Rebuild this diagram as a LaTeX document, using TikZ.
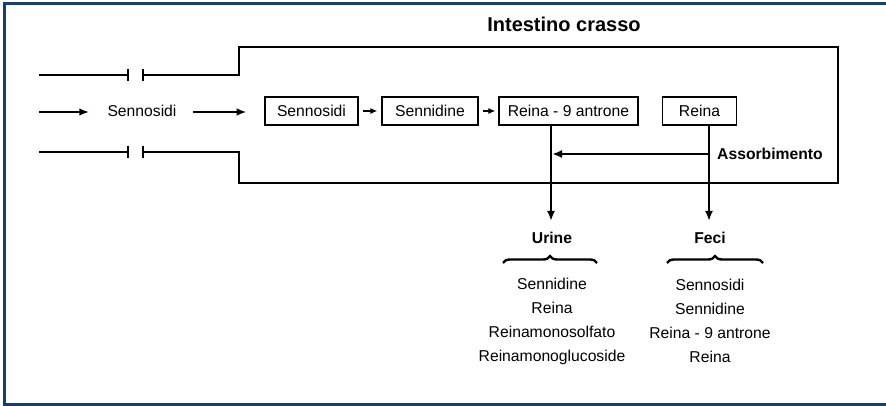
\documentclass[tikz,border=0pt]{standalone}
\usepackage{fontspec}
\setmainfont{Liberation Sans}
\usetikzlibrary{arrows.meta,decorations.pathreplacing,calc}
\definecolor{framebl}{RGB}{24,62,110}
\begin{document}
\begin{tikzpicture}[x=1pt,y=-1pt,
  txt/.style={font=\fontsize{15.7}{18}\selectfont, inner sep=0pt},
  bold/.style={font=\fontsize{15.7}{18}\selectfont\bfseries, inner sep=0pt},
  bx/.style={draw, line width=1.1pt, minimum height=28pt, inner sep=0pt, font=\fontsize{15.7}{18}\selectfont},
  wall/.style={line width=2.8pt},
  bigarr/.style={line width=2.8pt, -{Latex[length=10pt,width=8pt]}},
  midarr/.style={line width=2.2pt, -{Latex[length=10pt,width=7.5pt]}},
  smallarr/.style={line width=1.6pt, -{Latex[length=7pt,width=6pt]}},
  brc/.style={line width=2.4pt, decorate, decoration={brace, amplitude=7pt}},
  lst/.style={align=center, inner sep=0pt, font=\fontsize{15.7}{24}\selectfont}
]
\useasboundingbox (0,0) rectangle (886,406);
% frame
\draw[framebl, line width=3pt] (890,4) -- (4,4) -- (4,404) -- (890,404);

% title
\node[font=\fontsize{20}{24}\selectfont\bfseries, inner sep=0pt] (title) at (564,24) {Intestino crasso};

% intestine wall
\coordinate (tA) at (39,75);
\coordinate (tB) at (128,75);
\coordinate (tC) at (143,75);
\coordinate (bA) at (39,152);
\coordinate (bB) at (128,152);
\coordinate (bC) at (143,152);
\draw[wall] (tA) -- (tB);
\draw[wall] ($(tB)+(0,-6)$) -- ($(tB)+(0,6)$);
\draw[wall] ($(tC)+(0,-6)$) -- ($(tC)+(0,6)$);
\draw[wall] (tC) -- (239,75) -- (239,47) -- (838,47) -- (838,183) -- (239,183) -- (239,152) -- (bC);
\draw[wall] (bA) -- (bB);
\draw[wall] ($(bB)+(0,-6)$) -- ($(bB)+(0,6)$);
\draw[wall] ($(bC)+(0,-6)$) -- ($(bC)+(0,6)$);

% inflow
\coordinate (in0) at (39,112);
\node[txt] (sen0) at (142,111) {Sennosidi};
\draw[midarr] (in0) -- ($(sen0.west)+(-18,1)$);
\draw[midarr] ($(sen0.east)+(16,1)$) -- ($(sen0.east)+(70,1)$);

% boxes
\node[bx, minimum width=93pt] (b1) at (311.5,111) {Sennosidi};
\node[bx, minimum width=96pt] (b2) at (430,111) {Sennidine};
\node[bx, minimum width=139pt] (b3) at (568.5,111) {Reina - 9 antrone};
\node[bx, minimum width=74pt] (b4) at (699.5,111) {Reina};
\draw[smallarr] ($(b1.east)+(4,0)$) -- ($(b2.west)+(-4,0)$);
\draw[smallarr] ($(b2.east)+(4,0)$) -- ($(b3.west)+(-3,0)$);

% outflows
\coordinate (utip) at (551,221);
\coordinate (ftip) at (709,221);
\draw[bigarr] (b3.south -| utip) -- (utip);
\draw[bigarr] (b4.south -| ftip) -- (ftip);
\node[bold, anchor=west] (ass) at (717,154) {Assorbimento};
\draw[bigarr] (ass.west -| ftip) -- ($(ass.west -| utip)+(1,0)$);

\node[bold] (urine) at (552,238) {Urine};
\node[bold] (feci) at (710,238) {Feci};
\coordinate (ubL) at (503,263);
\coordinate (ubR) at (597,263);
\coordinate (fbL) at (667,263);
\coordinate (fbR) at (763,263);
\draw[brc] (ubL) -- (ubR);
\draw[brc] (fbL) -- (fbR);

\node[lst] (ulist) at (552,321) {Sennidine\\Reina\\Reinamonosolfato\\Reinamonoglucoside};
\node[lst] (flist) at (710,321) {Sennosidi\\Sennidine\\Reina - 9 antrone\\Reina};
\end{tikzpicture}
\end{document}
